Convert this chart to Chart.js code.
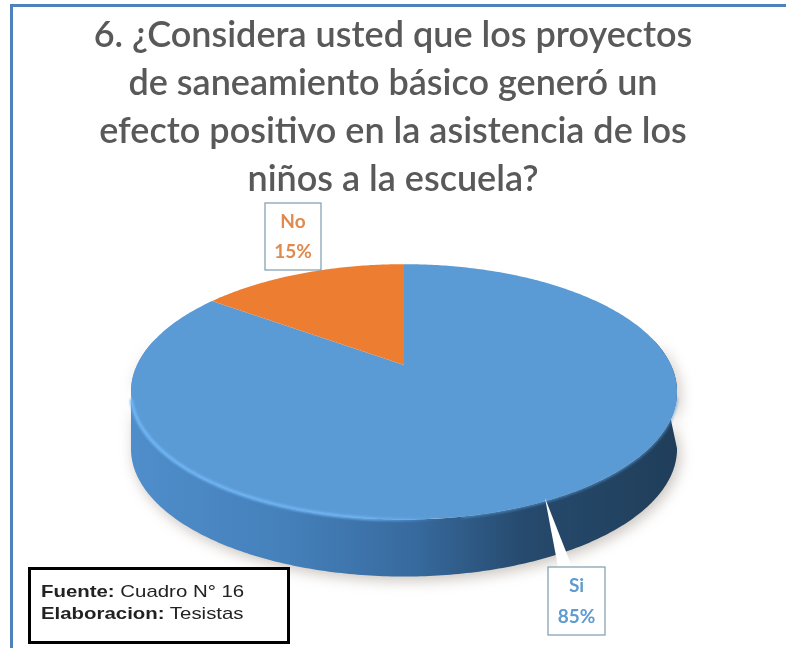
<!DOCTYPE html>
<html>
<head>
<meta charset="utf-8">
<title>Asistencia a la escuela</title>
<script src="https://cdn.jsdelivr.net/npm/chart.js@4"></script>
<style>
    html, body { margin: 0; padding: 0; background: #fff; overflow: hidden; }
    #wrap { position: relative; width: 786px; height: 648px; }
    #frameTop { position: absolute; left: 10px; top: 4px; right: 0; height: 3px; background: #4f81bd; }
    #frameLeft { position: absolute; left: 10px; top: 4px; bottom: 0; width: 3px; background: #4f81bd; }
    #fuente {
        position: absolute; left: 28px; top: 567px; width: 256px; height: 71px;
        border: 3px solid #000; background: #fff;
        font: 17px "Liberation Sans", Arial, sans-serif; color: #222;
        line-height: 22px;
    }
    #fuente div { margin-left: 10px; transform: scaleX(1.2); transform-origin: left center; white-space: nowrap; }
    #fuente div:first-child { margin-top: 11px; }
</style>
</head>
<body>
<div id="wrap">
    <canvas id="myChart" width="786" height="648"></canvas>
    <div id="frameTop"></div>
    <div id="frameLeft"></div>
    <div id="fuente">
        <div><b>Fuente:</b> Cuadro N° 16</div>
        <div><b>Elaboracion:</b> Tesistas</div>
    </div>
</div>
<script>
// Datos
const categorias = ["Si", "No"];
const valores = [85, 15];
const coloresTapa = ["#5B9BD5", "#ED7D31"];
const titulo = [
    "6. ¿Considera usted que los proyectos",
    "de saneamiento básico generó un",
    "efecto positivo en la asistencia de los",
    "niños a la escuela?"
];

// Perspectiva del disco (el pie de Chart.js queda plano, aquí se proyecta)
const ESCALA_X = 1.667;
const ESCALA_Y = 0.762;
const FUGA = 0.211;
const ALTO_PARED = 57;
const DESPLAZA_X = 11;

function proyectar(el, angulo, dy) {
    const u = Math.cos(angulo);
    const v = Math.sin(angulo);
    const w = 1 - FUGA * v;
    return {
        x: el.x + DESPLAZA_X + el.outerRadius * ESCALA_X * u / w,
        y: el.y + el.outerRadius * ESCALA_Y * v / w + (dy || 0)
    };
}

function trazarBorde(ctx, el, a0, a1, dy) {
    const pasos = Math.max(4, Math.ceil(Math.abs(a1 - a0) * 80));
    for (let i = 0; i <= pasos; i++) {
        const p = proyectar(el, a0 + (a1 - a0) * i / pasos, dy);
        ctx.lineTo(p.x, p.y);
    }
}

function caja(ctx, x, y, w, h, lineas, color) {
    ctx.save();
    ctx.strokeStyle = "#7d9cad";
    ctx.lineWidth = 1.2;
    ctx.fillStyle = "#fff";
    ctx.fillRect(x, y, w, h);
    ctx.strokeRect(x, y, w, h);
    ctx.fillStyle = color;
    ctx.textAlign = "center";
    ctx.textBaseline = "middle";
    ctx.font = 'bold 19px Lato, sans-serif';
    ctx.fillText(lineas[0], x + w / 2, y + h * 0.28);
    ctx.fillText(lineas[1], x + w / 2, y + h * 0.73);
    ctx.restore();
}

const pie3d = {
    id: "pie3d",
    // Se cancela el dibujo plano del dataset y se dibuja proyectado
    beforeDatasetDraw(chart) {
        const ctx = chart.ctx;
        const meta = chart.getDatasetMeta(0);
        const el0 = meta.data[0];
        const ladoDer = 0.21;
        const ladoIzq = Math.PI - 0.21;

        const izq = proyectar(el0, ladoIzq).x;
        const der = proyectar(el0, ladoDer).x;
        const pared = ctx.createLinearGradient(izq, 0, der, 0);
        pared.addColorStop(0, "#4f8ecb");
        pared.addColorStop(0.3, "#447fb9");
        pared.addColorStop(0.52, "#376a9e");
        pared.addColorStop(0.72, "#264a6d");
        pared.addColorStop(1, "#203e5a");

        // Sombra suave bajo el disco y pared lateral
        ctx.save();
        ctx.shadowColor = "rgba(120,105,90,0.4)";
        ctx.shadowBlur = 14;
        ctx.shadowOffsetX = 3;
        ctx.shadowOffsetY = 4;
        ctx.fillStyle = pared;
        ctx.beginPath();
        trazarBorde(ctx, el0, -0.21, ladoIzq + 0.42, 0);
        ctx.lineTo(izq, proyectar(el0, ladoIzq).y);
        trazarBorde(ctx, el0, ladoIzq, ladoDer, ALTO_PARED);
        ctx.closePath();
        ctx.fill();
        ctx.restore();

        // Tapa: una porcion por cada arco calculado por Chart.js
        meta.data.forEach((el, i) => {
            ctx.save();
            ctx.fillStyle = coloresTapa[i];
            ctx.beginPath();
            ctx.moveTo(el.x + DESPLAZA_X, el.y);
            trazarBorde(ctx, el, el.startAngle, el.endAngle, 0);
            ctx.closePath();
            ctx.fill();
            ctx.restore();
        });

        // Borde difuso a la derecha, contra la pared oscura
        ctx.save();
        ctx.strokeStyle = coloresTapa[0];
        ctx.lineWidth = 2;
        ctx.filter = "blur(1.5px)";
        ctx.beginPath();
        trazarBorde(ctx, el0, ladoDer + 0.05, 1.4, 0);
        ctx.stroke();
        ctx.restore();

        // Brillo del canto delantero, se apaga hacia la derecha
        const brillo = ctx.createLinearGradient(izq, 0, izq + 310, 0);
        brillo.addColorStop(0, "rgba(112,182,245,0.95)");
        brillo.addColorStop(0.75, "rgba(112,182,245,0.85)");
        brillo.addColorStop(1, "rgba(112,182,245,0)");
        ctx.save();
        ctx.strokeStyle = brillo;
        ctx.lineWidth = 3.5;
        ctx.filter = "blur(1.2px)";
        ctx.beginPath();
        trazarBorde(ctx, el0, ladoIzq - 0.06, 1.3, 0);
        ctx.stroke();
        ctx.restore();

        return false;
    },
    afterDatasetsDraw(chart) {
        const ctx = chart.ctx;

        // Puntero blanco de la etiqueta Si
        ctx.save();
        ctx.fillStyle = "#fff";
        ctx.beginPath();
        ctx.moveTo(545, 498);
        ctx.lineTo(572, 567);
        ctx.lineTo(558, 567);
        ctx.closePath();
        ctx.fill();
        ctx.restore();

        caja(ctx, 265, 203, 56, 67, [categorias[1], valores[1] + "%"], "#e08a4e");
        caja(ctx, 548, 567, 57, 68, [categorias[0], valores[0] + "%"], "#5f9bd0");
    }
};

new Chart(document.getElementById("myChart"), {
    type: "pie",
    data: {
        labels: categorias,
        datasets: [{ data: valores, backgroundColor: coloresTapa, borderWidth: 0 }]
    },
    plugins: [pie3d],
    options: {
        responsive: false,
        animation: false,
        layout: { padding: { left: 0, right: 0, top: 0, bottom: 123 } },
        plugins: {
            legend: { display: false },
            tooltip: { enabled: false },
            title: {
                display: true,
                text: titulo,
                color: "#595959",
                font: { family: "Lato, sans-serif", size: 36, weight: "600", lineHeight: 1.325 },
                padding: { top: 12, bottom: 2 }
            }
        }
    }
});
</script>
</body>
</html>
